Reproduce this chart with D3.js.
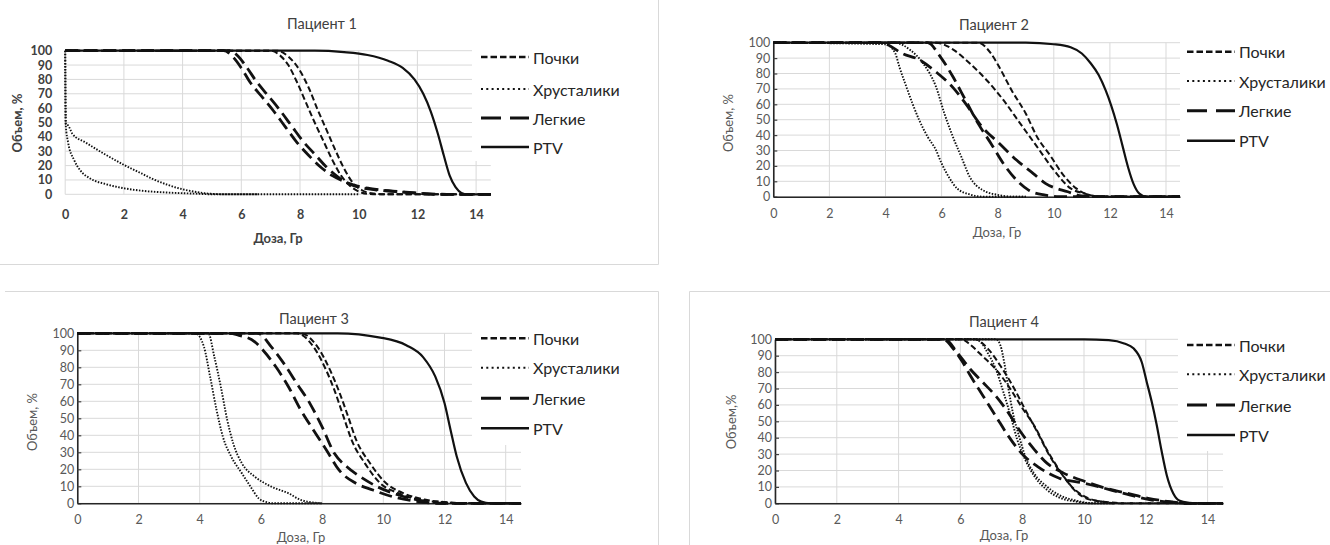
<!DOCTYPE html>
<html>
<head>
<meta charset="utf-8">
<script src="https://cdn.jsdelivr.net/npm/d3@7"></script>
<style>
  body { margin: 0; background: #fff; }
  svg { display: block; font-family: Lato, "Open Sans", sans-serif; }
</style>
</head>
<body>
<svg id="chart" width="1330" height="545"></svg>
<script>
// ---- data: DVH curves, [dose Gy, volume %] ----
const doseTicks = [0, 2, 4, 6, 8, 10, 12, 14];
const volumeTicks = [0, 10, 20, 30, 40, 50, 60, 70, 80, 90, 100];
const organs = ["Почки", "Хрусталики", "Легкие", "PTV"];
const titles = ["Пациент 1", "Пациент 2", "Пациент 3", "Пациент 4"];
const yTitles = ["Объем, %", "Объем, %", "Объем, %", "Объем,%"];
const xTitle = "Доза, Гр";

// patient 1
const p1KidneyA = [[0,100],[7.0,100],[7.3,97],[7.6,90],[7.9,78],[8.2,64],[8.5,50],[8.8,37],[9.1,24],[9.4,13],[9.7,6],[10.0,2],[10.3,0.3],[10.6,0],[14.5,0]];
const p1KidneyB = [[0,100],[7.2,100],[7.6,96],[8.0,86],[8.3,74],[8.6,59],[8.9,45],[9.2,31],[9.5,18],[9.8,8],[10.1,3],[10.5,0.5],[11,0],[14.5,0]];
const p1LensA = [[0,100],[0.02,49],[0.1,48],[0.25,42],[0.7,36],[1.3,28.5],[2.0,20.5],[2.6,14.5],[3.0,10.5],[3.5,6.5],[4.0,3.5],[4.5,1.5],[5.0,0.3],[5.5,0],[10,0]];
const p1LensB = [[0,100],[0.02,48],[0.1,36],[0.3,24],[0.5,17],[0.85,11],[1.4,7],[2.0,4.2],[2.6,2.5],[3.5,1.2],[4.5,0.4],[5.0,0],[6.6,0]];
const p1LungA = [[0,100],[5.4,100],[5.7,96],[6.0,88],[6.3,78],[6.7,68],[7.1,58],[7.5,47],[7.9,36],[8.3,27],[8.7,19],[9.1,13],[9.5,9],[9.9,6],[10.4,4],[11,2.5],[11.6,1.5],[12.3,0.5],[13,0],[14.5,0]];
const p1LungB = [[0,100],[5.6,100],[5.9,96],[6.2,88],[6.5,79],[6.9,69],[7.3,59],[7.7,48],[8.1,37],[8.5,28],[8.9,19],[9.3,12],[9.7,7],[10.1,4.5],[10.6,3],[11.2,2],[11.8,1],[12.5,0],[14.5,0]];
const p1Ptv = [[0,100],[8.5,100],[9.5,99],[10.3,97],[11,93],[11.5,88],[11.9,80],[12.2,70],[12.45,58],[12.7,42],[12.9,27],[13.1,13],[13.3,5],[13.5,1],[13.7,0],[14.5,0]];

// patient 2
const p2KidneyA = [[0,100],[5.8,100],[6.4,95.7],[7.0,86.6],[7.6,75.8],[8.2,62.8],[8.8,47.6],[9.4,32.5],[10.0,17.3],[10.6,5.4],[11.1,2],[11.6,0],[14.5,0]];
const p2KidneyB = [[0,100],[7.3,100],[7.76,93],[8.06,84],[8.5,69],[9.0,54],[9.4,39],[9.9,26],[10.3,15],[10.8,5.4],[11.2,1.5],[11.7,0],[14.5,0]];
const p2LensA = [[0,100],[4.0,99],[4.35,93],[4.5,84],[4.7,73.6],[4.96,60.6],[5.2,49.8],[5.5,39],[5.8,30.3],[6.0,21.6],[6.25,13],[6.55,5.4],[7.0,1.5],[7.5,0],[9,0]];
const p2LensB = [[0,100],[4.3,100],[4.9,95],[5.34,86.6],[5.8,71.4],[6.1,54],[6.4,39],[6.7,26],[7.0,13],[7.46,4.3],[8.06,1],[8.5,0],[9,0]];
const p2LungA = [[0,100],[3.9,100],[4.1,98.5],[4.6,93],[5.2,89],[5.8,81],[6.4,71],[6.85,60.6],[7.46,45],[8.06,34.6],[8.67,23.8],[9.27,15],[9.7,8.7],[10.5,3.2],[11,0.5],[11.5,0],[14.5,0]];
const p2LungB = [[0,100],[5.5,100],[5.95,91],[6.4,78],[6.85,62.8],[7.3,47.6],[7.76,34.6],[8.2,21.6],[8.67,10.8],[9.1,4.3],[9.7,1],[10.2,0],[14.5,0]];
const p2Ptv = [[0,100],[9,100],[10,99],[10.6,97],[11,93],[11.3,87],[11.6,79],[11.85,69],[12.05,59],[12.25,47],[12.45,33],[12.65,19],[12.85,8],[13.05,2],[13.3,0],[14.5,0]];

// patient 3
const p3KidneyA = [[0,100],[7.17,100],[7.72,92],[8.14,78],[8.4,66.7],[8.7,51],[8.97,37],[9.4,23.5],[9.9,11.8],[10.5,5.9],[11.2,2],[12,0.6],[12.5,0],[14.5,0]];
const p3KidneyB = [[0,100],[7.3,100],[7.85,92],[8.27,78],[8.55,66],[8.85,51],[9.12,37],[9.55,24],[10.05,12.5],[10.65,6],[11.35,2.2],[12.1,0.6],[12.6,0],[14.5,0]];
const p3LensA = [[0,100],[3.86,100],[4.14,92],[4.34,74.5],[4.55,55],[4.76,39],[5.03,27.5],[5.38,17.6],[5.66,9.8],[5.93,2.9],[6.2,0.6],[6.4,0],[8,0]];
const p3LensB = [[0,100],[4.28,100],[4.48,86],[4.69,68.6],[4.9,49],[5.1,35],[5.38,23.5],[5.8,15.7],[6.34,9.8],[6.9,5.9],[7.3,2],[7.72,0.4],[8,0]];
const p3LungA = [[0,100],[5.0,100],[5.24,99],[5.8,95],[6.07,90],[6.5,80],[6.9,68.6],[7.3,55],[7.72,43],[8.14,31.4],[8.55,19.6],[9.1,11.8],[9.66,7.8],[10.3,3.9],[11.0,1.4],[11.8,0],[14.5,0]];
const p3LungB = [[0,100],[5.9,100],[6.34,92],[6.76,82],[7.17,70.6],[7.6,58.8],[8.0,45],[8.4,29.4],[8.8,21.6],[9.24,15.7],[9.8,9.8],[10.5,4.9],[11.3,1.4],[12,0],[14.5,0]];
const p3Ptv = [[0,100],[8.5,100],[9.9,97.5],[10.75,93],[11.3,86],[11.7,74.5],[12.0,59],[12.2,43],[12.4,27.5],[12.7,12],[12.97,4],[13.2,1],[13.5,0],[14.5,0]];

// patient 4
const p4KidneyA = [[0,100],[6.05,100],[6.3,97],[6.7,90],[7.15,81.6],[7.56,71.4],[7.97,59],[8.4,47],[8.8,32.6],[9.2,20.4],[9.6,10.2],[10.03,4],[10.6,1],[11,0],[14.5,0]];
const p4KidneyB = [[0,100],[6.47,100],[6.9,94],[7.3,83.7],[7.7,71.4],[8.1,57],[8.5,43],[8.9,28.6],[9.34,16.3],[9.75,7],[10.16,2.4],[10.85,0.6],[11.3,0],[14.5,0]];
const p4LensA = [[0,100],[6.47,100],[6.67,98],[6.88,91.8],[7.15,81.6],[7.4,67.3],[7.63,53],[7.84,38.8],[8.1,26.5],[8.4,16.3],[8.8,8.2],[9.2,3.5],[9.75,1],[10.2,0],[11,0]];
const p4LensB = [[0,100],[7.15,100],[7.3,96],[7.42,85.7],[7.56,69.4],[7.7,55],[7.9,40.8],[8.1,28.6],[8.38,18.4],[8.8,10.2],[9.2,5],[9.75,1.6],[10.3,0],[11,0]];
const p4LungA = [[0,100],[5.44,100],[5.78,94],[6.05,86.7],[6.33,77.6],[6.74,65.3],[7.15,53],[7.56,40.8],[7.97,30.6],[8.5,22.4],[9.2,15.3],[10.03,12.2],[10.85,8.2],[11.5,5],[12.2,2],[12.9,0.6],[13.3,0],[14.5,0]];
const p4LungB = [[0,100],[5.5,100],[5.9,91.8],[6.33,81.6],[6.74,73.5],[7.15,65.3],[7.56,55],[7.97,43],[8.4,32.6],[8.8,24.5],[9.34,18.4],[10.03,13.3],[10.7,9.2],[11.4,6.1],[12.08,3],[12.77,1],[13.3,0],[14.5,0]];
const p4Ptv = [[0,100],[10,100],[10.8,99.5],[11.3,97.5],[11.6,94.5],[11.87,86],[12.03,74],[12.19,62],[12.35,48],[12.51,32],[12.68,17],[12.89,6],[13.1,1.5],[13.4,0.3],[13.6,0],[14.5,0]];

// ---- line styles ----
const styles = {
    kidney: { dash: "6,3", width: 2, legendDash: "6.5,3", legendWidth: 2.4 },
    lens:   { dash: "1.5,1.5", width: 1.9, legendDash: "2,3.3", legendWidth: 2 },
    lung:   { dash: "13,6", width: 2.8, legendDash: "20,9", legendWidth: 3 },
    ptv:    { dash: null, width: 2.2, legendDash: null, legendWidth: 2.6 }
};
const legendKeys = ["kidney", "lens", "lung", "ptv"];

// ---- panel layouts (pixel positions) ----
const panels = [
    { x0: 65.2, ppu: 29.35, yTop: 50.7, yBot: 194.3, bold: true, axis: false,
      title: [322, 23], xLab: [278, 238], yLab: [17, 123], xTickY: 215,
      legX: 481, legY: [57, 89, 118, 147], boxX: 472, boxBottom: 161,
      series: [["lung", p1LungA], ["lung", p1LungB], ["kidney", p1KidneyA], ["kidney", p1KidneyB], ["lens", p1LensA], ["lens", p1LensB], ["ptv", p1Ptv]] },
    { x0: 773.3, ppu: 28.05, yTop: 42.7, yBot: 196.7, bold: false, axis: true,
      title: [994, 24], xLab: [997, 232], yLab: [728, 123], xTickY: 214,
      legX: 1187, legY: [51.7, 81, 110.7, 140.7], boxX: null, boxBottom: null,
      series: [["lung", p2LungA], ["lung", p2LungB], ["kidney", p2KidneyA], ["kidney", p2KidneyB], ["lens", p2LensA], ["lens", p2LensB], ["ptv", p2Ptv]] },
    { x0: 77.3, ppu: 30.6, yTop: 333.3, yBot: 503.3, bold: false, axis: true,
      title: [314, 318], xLab: [301, 537], yLab: [31.7, 422], xTickY: 520,
      legX: 481, legY: [338.3, 367.7, 398.3, 428.3], boxX: 472, boxBottom: 445,
      series: [["lung", p3LungA], ["lung", p3LungB], ["kidney", p3KidneyA], ["kidney", p3KidneyB], ["lens", p3LensA], ["lens", p3LensB], ["ptv", p3Ptv]] },
    { x0: 775, ppu: 30.9, yTop: 339.3, yBot: 503.3, bold: false, axis: true,
      title: [1004, 321], xLab: [1004, 535], yLab: [730.7, 422], xTickY: 520,
      legX: 1187, legY: [345, 374.3, 405, 435], boxX: 1178, boxBottom: 451,
      series: [["lung", p4LungA], ["lung", p4LungB], ["kidney", p4KidneyA], ["kidney", p4KidneyB], ["lens", p4LensA], ["lens", p4LensB], ["ptv", p4Ptv]] }
];

const svg = d3.select("#chart");

// light panel frames
const frame = svg.append("g").attr("stroke", "#d9d9d9").attr("stroke-width", 1).attr("fill", "none");
frame.append("path").attr("d", "M658.5,0V264.5H0");
frame.append("path").attr("d", "M5,291.5H658.5V545");
frame.append("path").attr("d", "M689.5,545V291.5H1330");

panels.forEach((p, i) => {
    const x = d3.scaleLinear().domain([0, 14.5]).range([p.x0, p.x0 + 14.5 * p.ppu]);
    const y = d3.scaleLinear().domain([0, 100]).range([p.yBot, p.yTop]);
    const g = svg.append("g");
    const labelColor = p.bold ? "#404040" : "#595959";
    const weight = p.bold ? "bold" : "normal";

    // gridlines
    g.append("g").selectAll("line").data(volumeTicks).join("line")
        .attr("x1", x(0)).attr("x2", x(14.5))
        .attr("y1", d => y(d)).attr("y2", d => y(d))
        .attr("stroke", "#d9d9d9").attr("stroke-width", 1);
    g.append("g").selectAll("line").data(doseTicks).join("line")
        .attr("x1", d => x(d)).attr("x2", d => x(d))
        .attr("y1", y(0)).attr("y2", y(100))
        .attr("stroke", "#d9d9d9").attr("stroke-width", 1);

    // legend background hides the grid behind it
    if (p.boxX !== null) {
        g.append("rect").attr("x", p.boxX).attr("y", p.yTop - 12)
            .attr("width", x(14.5) - p.boxX + 4).attr("height", p.boxBottom - p.yTop + 12)
            .attr("fill", "#fff");
    }

    // axes
    const yAxis = d3.axisLeft(y).tickValues(volumeTicks)
        .tickSize(p.axis ? -4 : 0).tickSizeOuter(0).tickPadding(p.axis ? 3 : 13);
    const ya = g.append("g").attr("transform", `translate(${x(0)},0)`).call(yAxis);
    const xAxis = d3.axisBottom(x).tickValues(doseTicks).tickSize(0).tickSizeOuter(0).tickPadding(0);
    const xa = g.append("g").attr("transform", `translate(0,${y(0)})`).call(xAxis);
    [ya, xa].forEach(a => {
        a.selectAll(".tick line").attr("stroke", "#404040").attr("stroke-width", 1.2);
        a.select(".domain").attr("stroke", p.axis ? "#262626" : "none").attr("stroke-width", 1.6);
        a.selectAll("text").attr("fill", labelColor).attr("font-size", 12.5)
            .attr("font-weight", weight).attr("font-family", "Lato, sans-serif");
    });
    xa.selectAll("text").attr("dy", null).attr("y", p.xTickY - y(0)).attr("dominant-baseline", "central");

    // curves
    const line = d3.line().x(d => x(d[0])).y(d => y(d[1])).curve(d3.curveMonotoneX);
    g.append("g").selectAll("path").data(p.series).join("path")
        .attr("d", d => line(d[1]))
        .attr("fill", "none")
        .attr("stroke", "#111")
        .attr("stroke-width", d => styles[d[0]].width)
        .attr("stroke-dasharray", d => styles[d[0]].dash)
        .attr("stroke-linejoin", "round");

    // titles
    g.append("text").attr("x", p.title[0]).attr("y", p.title[1])
        .attr("text-anchor", "middle").attr("dominant-baseline", "central")
        .attr("font-size", 14.5).attr("fill", "#404040").text(titles[i]);
    g.append("text").attr("x", p.xLab[0]).attr("y", p.xLab[1])
        .attr("text-anchor", "middle").attr("dominant-baseline", "central")
        .attr("font-size", 13).attr("font-weight", weight).attr("fill", labelColor).text(xTitle);
    g.append("text").attr("transform", `translate(${p.yLab[0]},${p.yLab[1]}) rotate(-90)`)
        .attr("text-anchor", "middle").attr("dominant-baseline", "central")
        .attr("font-size", 13).attr("font-weight", weight).attr("fill", labelColor).text(yTitles[i]);

    // legend
    const leg = g.append("g").selectAll("g").data(organs).join("g")
        .attr("transform", (d, k) => `translate(${p.legX},${p.legY[k]})`);
    leg.append("line").attr("x1", 0).attr("x2", 48).attr("y1", 0).attr("y2", 0)
        .attr("stroke", "#111")
        .attr("stroke-width", (d, k) => styles[legendKeys[k]].legendWidth)
        .attr("stroke-dasharray", (d, k) => styles[legendKeys[k]].legendDash);
    leg.append("text").attr("x", 52).attr("y", 0).attr("dominant-baseline", "central")
        .attr("font-size", 16).attr("fill", "#262626").text(d => d);
});
</script>
</body>
</html>
